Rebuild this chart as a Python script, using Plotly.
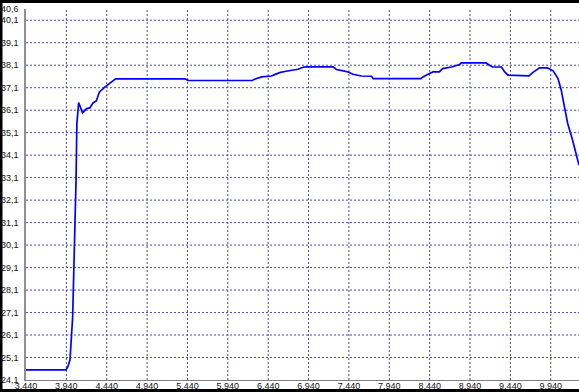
import plotly.graph_objects as go

# ---- data ----
time_x = [3.44, 3.935, 3.96, 3.985, 4.018, 4.034, 4.06, 4.07, 4.092, 4.14, 4.19, 4.23, 4.27, 4.31,
          4.35, 4.42, 4.48, 4.55, 5.41, 5.45, 6.246, 6.27, 6.36, 6.48, 6.52, 6.58, 6.66, 6.75,
          6.81, 6.87, 6.91, 7.243, 7.285, 7.37, 7.43, 7.49, 7.595, 7.72, 7.74, 8.33, 8.357, 8.42,
          8.48, 8.56, 8.60, 8.71, 8.81, 8.83, 9.14, 9.18, 9.22, 9.33, 9.37, 9.41, 9.67, 9.72,
          9.76, 9.80, 9.90, 9.97, 10.03, 10.07, 10.11, 10.15, 10.21, 10.26, 10.29]
values_y = [24.55, 24.55, 24.7, 25.0, 26.9, 29.0, 33.0, 35.5, 36.44, 35.98, 36.17, 36.2, 36.42, 36.51,
            36.91, 37.14, 37.31, 37.49, 37.49, 37.42, 37.42, 37.48, 37.58, 37.62, 37.68, 37.77, 37.83, 37.89,
            37.92, 38.01, 38.03, 38.03, 37.91, 37.85, 37.80, 37.70, 37.62, 37.61, 37.50, 37.50, 37.58, 37.70,
            37.80, 37.80, 37.95, 38.02, 38.13, 38.20, 38.20, 38.10, 38.02, 38.02, 37.80, 37.66, 37.63, 37.78,
            37.88, 37.98, 37.98, 37.85, 37.51, 36.99, 36.25, 35.51, 34.77, 34.02, 33.66]

x_tickvals = [3.44, 3.94, 4.44, 4.94, 5.44, 5.94, 6.44, 6.94, 7.44, 7.94, 8.44, 8.94, 9.44, 9.94]
x_ticktext = ["3,440", "3,940", "4,440", "4,940", "5,440", "5,940", "6,440", "6,940", "7,440",
              "7,940", "8,440", "8,940", "9,440", "9,940"]
y_tickvals = [24.1, 25.1, 26.1, 27.1, 28.1, 29.1, 30.1, 31.1, 32.1, 33.1, 34.1, 35.1, 36.1, 37.1,
              38.1, 39.1, 40.1, 40.6]
y_ticktext = ["24,1", "25,1", "26,1", "27,1", "28,1", "29,1", "30,1", "31,1", "32,1", "33,1", "34,1",
              "35,1", "36,1", "37,1", "38,1", "39,1", "40,1", "40,6"]
x_range = [3.44, 10.29]
y_range = [24.1, 40.6]

W, H = 579, 392
ML, MR, MT, MB = 26, 0, 9, 12
PW, PH = W - ML - MR, H - MT - MB

fig = go.Figure()
fig.add_trace(go.Scatter(x=time_x, y=values_y, mode="lines",
                         line=dict(color="#0000ff", width=1.7), hoverinfo="skip"))

grid_style = dict(color="#4848a8", width=1, dash="2px,2px")
for v in x_tickvals[1:]:
    fig.add_shape(type="line", xref="x", yref="paper", x0=v, x1=v, y0=0, y1=1,
                  line=grid_style, layer="below")
for v in y_tickvals[1:-1]:
    fig.add_shape(type="line", xref="paper", yref="y", x0=0, x1=1, y0=v, y1=v,
                  line=grid_style, layer="below")

def px_x(p):
    return (p - ML) / PW

def px_y(p):
    return (H - MB - p) / PH

# black frame (top, left, bottom)
frame = dict(type="rect", xref="paper", yref="paper", fillcolor="black", line=dict(width=0), layer="above")
fig.add_shape(**frame, x0=px_x(0), x1=px_x(W), y0=px_y(0), y1=px_y(3))
fig.add_shape(**frame, x0=px_x(0), x1=px_x(2.5), y0=px_y(0), y1=px_y(H))
fig.add_shape(**frame, x0=px_x(0), x1=px_x(W), y0=px_y(389), y1=px_y(H))

font = dict(family="Liberation Sans, Arial, sans-serif", size=9, color="#111111")
fig.update_layout(
    width=W, height=H,
    margin=dict(l=ML, r=MR, t=MT, b=MB, pad=0),
    paper_bgcolor="white", plot_bgcolor="white",
    showlegend=False,
    xaxis=dict(range=x_range, tickmode="array", tickvals=x_tickvals, ticktext=x_ticktext,
               showgrid=False, zeroline=False, showline=True, linecolor="#808080", linewidth=1,
               ticks="", tickfont=font, automargin=False, ticklabelstandoff=-3),
    yaxis=dict(range=y_range, tickmode="array", tickvals=y_tickvals, ticktext=y_ticktext,
               showgrid=False, zeroline=False, showline=True, linecolor="#909090", linewidth=1.5,
               ticks="", tickfont=font, automargin=False, ticklabelstandoff=4),
)

fig.write_html("out.html", config={"displayModeBar": False},
               post_script="document.body.style.margin='0px';document.body.style.overflow='hidden';")
